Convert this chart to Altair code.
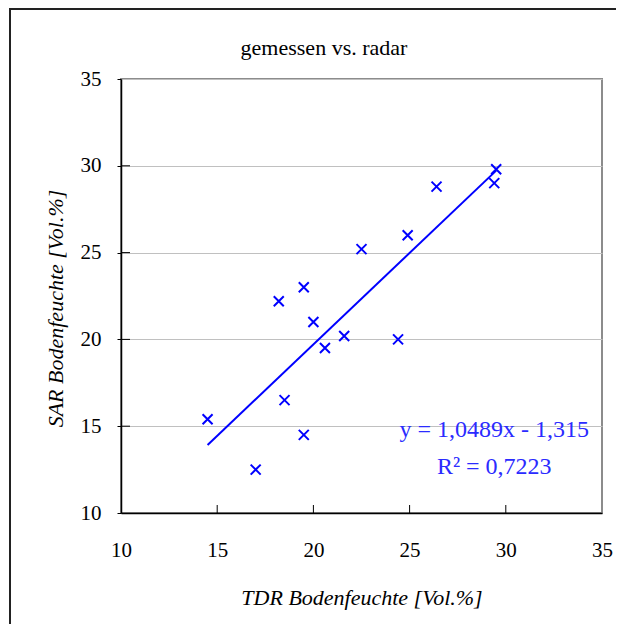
import altair as alt
import pandas as pd

tdr = [14.5, 17.0, 18.2, 18.5, 19.5, 19.5, 20.0, 20.6, 21.6, 24.4, 22.5, 24.9, 26.4, 29.4, 29.5]
sar = [15.4, 12.5, 22.2, 16.5, 23.0, 14.5, 21.0, 19.5, 20.2, 20.0, 25.2, 26.0, 28.8, 29.0, 29.8]
tick_values = [15, 20, 25, 30]
axis_values = [10, 15, 20, 25, 30, 35]
title_text = "gemessen vs. radar"
eq_text = "y = 1,0489x - 1,315"
r2_text = "R² = 0,7223"

df = pd.DataFrame({"tdr": tdr, "sar": sar})
ticks = pd.DataFrame({"t": tick_values})

FONT = "Liberation Serif"
BLUE = "#0000ff"
W, H = 481, 434

xs = alt.Scale(domain=[10, 35], nice=False, zero=False)
ys = alt.Scale(domain=[10, 35], nice=False, zero=False)

x_axis = alt.Axis(values=axis_values, grid=False, ticks=False, domainColor="black",
                  domainWidth=1.5, labelFont=FONT, labelFontSize=21, labelColor="black",
                  labelPadding=26, labelFlush=False, title="TDR Bodenfeuchte [Vol.%]",
                  titleFont=FONT, titleFontSize=22, titleFontStyle="italic",
                  titleFontWeight="normal", titleColor="black", titleY=84,
                  titleBaseline="middle")
y_axis = alt.Axis(values=axis_values, grid=True, gridColor="#c0c0c0", gridWidth=1,
                  ticks=True, tickSize=4, tickColor="black", domainColor="black",
                  domainWidth=1.5, labelFont=FONT, labelFontSize=21, labelColor="black",
                  labelPadding=16, labelFlush=False, title="SAR Bodenfeuchte [Vol.%]",
                  titleFont=FONT, titleFontSize=22, titleFontStyle="italic",
                  titleFontWeight="normal", titleColor="black", titleX=-66, titleY=229,
                  titleAlign="center", titleBaseline="middle", titleAngle=270)

frame = alt.Chart(df).mark_rect(filled=False, stroke="#222222", strokeWidth=2).encode(
    x=alt.value(-111), x2=alt.value(800), y=alt.value(-70), y2=alt.value(800)
)

points = alt.Chart(df).mark_point(
    shape="M-1,-1L1,1M-1,1L1,-1", filled=False, stroke=BLUE, strokeWidth=2, size=100, opacity=1
).encode(
    x=alt.X("tdr:Q", scale=xs, axis=x_axis),
    y=alt.Y("sar:Q", scale=ys, axis=y_axis),
)

trend = alt.Chart(df).transform_regression("tdr", "sar").mark_line(
    color=BLUE, strokeWidth=2
).encode(x=alt.X("tdr:Q", scale=xs), y=alt.Y("sar:Q", scale=ys))

xticks = alt.Chart(ticks).mark_rule(color="black", strokeWidth=1).encode(
    x=alt.X("t:Q", scale=xs), y=alt.value(H), y2=alt.value(H - 8)
)
yticks = alt.Chart(ticks).mark_rule(color="black", strokeWidth=1).encode(
    y=alt.Y("t:Q", scale=ys), x=alt.value(0), x2=alt.value(9)
)

one = "datum.tdr == 14.5"
eq = alt.Chart(df).mark_text(text=eq_text, font=FONT, fontSize=24, color="#2b2bff",
                             align="center", baseline="middle").encode(
    x=alt.datum(29.4), y=alt.datum(14.8)
).transform_filter(one)
r2 = alt.Chart(df).mark_text(text=r2_text, font=FONT, fontSize=24, color="#2b2bff",
                             align="center", baseline="middle").encode(
    x=alt.datum(29.4), y=alt.datum(12.65)
).transform_filter(one)
title = alt.Chart(df).mark_text(text=title_text, font=FONT, fontSize=22, color="black",
                                align="center", baseline="middle").encode(
    x=alt.value(203), y=alt.value(-31)
).transform_filter(one)

chart = alt.layer(frame, points, trend, xticks, yticks, eq, r2, title).properties(
    width=W, height=H,
    autosize=alt.AutoSizeParams(type="none"),
    padding={"left": 113, "top": 71, "right": 14, "bottom": 111},
).configure_view(stroke="#8c8c8c", strokeWidth=2)

chart.save("out.html", embed_options={"renderer": "svg", "actions": False})
